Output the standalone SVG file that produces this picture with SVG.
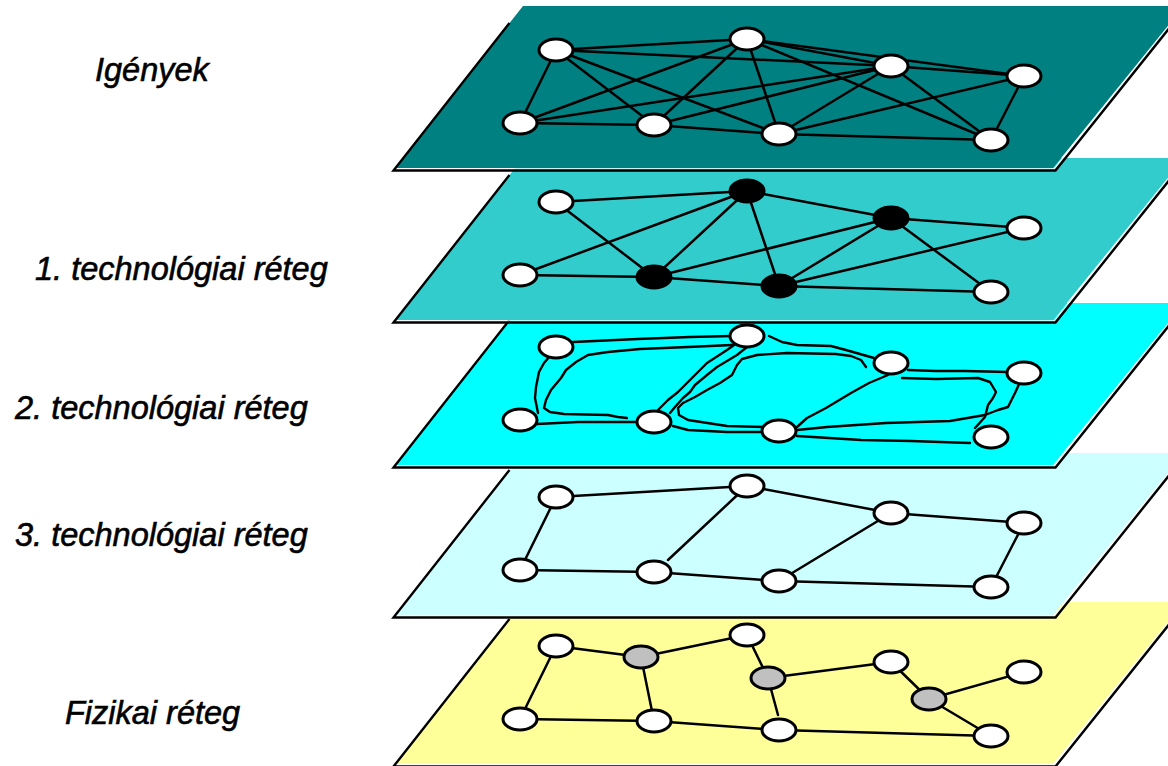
<svg xmlns="http://www.w3.org/2000/svg" xmlns:xlink="http://www.w3.org/1999/xlink" width="1168" height="766" viewBox="0 0 1168 766">
  <style>
    .edge { fill: none; stroke: #000; stroke-width: 2.5; stroke-linecap: round; stroke-linejoin: round; }
    .wire { fill: none; stroke: #000; stroke-width: 2.4; stroke-linecap: round; stroke-linejoin: round; }
    .node { fill: #fff; stroke: #000; stroke-width: 3; }
    .dark { fill: #000; stroke: #000; stroke-width: 3; }
    .grey { fill: #c0c0c0; stroke: #000; stroke-width: 3; }
    .rim { fill: none; stroke: #000; stroke-width: 2.4; stroke-linejoin: miter; }
    .gloss { fill: none; stroke: #fff; stroke-width: 1.3; }
    .lbl { font-family: "Liberation Sans", Arial, sans-serif; font-style: italic; font-size: 32.5px; fill: #000; stroke: #000; stroke-width: 0.6; }
  </style>
  <defs>
    <!-- one slanted plane, drawn at the top position and shifted down per layer -->
    <polygon id="sheet" points="523,6 1184,6 1053,168 395,168"/>
    <g id="frame">
      <path class="gloss" d="M396,169 L1054,169 L1185.5,6"/>
      <path class="rim" d="M509.5,23 L393.5,170.5 L1055.5,170.5 L1171,26"/>
    </g>
  </defs>

  <!-- planes, bottom to top -->
  <g id="planes">
    <g id="plane-fizikai" transform="translate(0,596)">
      <use xlink:href="#sheet" fill="#ffff99"/>
      <use xlink:href="#frame"/>
    </g>
    <g id="plane-tech3" transform="translate(0,447)">
      <use xlink:href="#sheet" fill="#ccffff"/>
      <use xlink:href="#frame"/>
    </g>
    <g id="plane-tech2" transform="translate(0,297)">
      <use xlink:href="#sheet" fill="#00ffff"/>
      <use xlink:href="#frame"/>
    </g>
    <g id="plane-tech1" transform="translate(0,152)">
      <use xlink:href="#sheet" fill="#33cccc"/>
      <use xlink:href="#frame"/>
    </g>
    <g id="plane-igenyek">
      <use xlink:href="#sheet" fill="#008080"/>
      <use xlink:href="#frame"/>
    </g>
  </g>

  <!-- labels -->
  <g id="labels">
    <text class="lbl" x="95" y="81">Igények</text>
    <text class="lbl" x="35" y="280">1. technológiai réteg</text>
    <text class="lbl" x="15" y="419">2. technológiai réteg</text>
    <text class="lbl" x="15" y="546">3. technológiai réteg</text>
    <text class="lbl" x="65" y="724">Fizikai réteg</text>
  </g>

  <g id="connectors">
    <!-- demand layer: full mesh of requests -->
    <g id="links-igenyek" class="edge">
      <line x1="556" y1="50" x2="747" y2="39"/>
      <line x1="556" y1="50" x2="891" y2="66"/>
      <line x1="556" y1="50" x2="520" y2="123"/>
      <line x1="556" y1="50" x2="654" y2="125"/>
      <line x1="556" y1="50" x2="779" y2="134"/>
      <line x1="747" y1="39" x2="520" y2="123"/>
      <line x1="747" y1="39" x2="654" y2="125"/>
      <line x1="747" y1="39" x2="779" y2="134"/>
      <line x1="747" y1="39" x2="891" y2="66"/>
      <line x1="747" y1="39" x2="1024" y2="76"/>
      <line x1="747" y1="39" x2="991" y2="140"/>
      <line x1="891" y1="66" x2="520" y2="123"/>
      <line x1="891" y1="66" x2="654" y2="125"/>
      <line x1="891" y1="66" x2="779" y2="134"/>
      <line x1="891" y1="66" x2="1024" y2="76"/>
      <line x1="891" y1="66" x2="991" y2="140"/>
      <line x1="1024" y1="76" x2="779" y2="134"/>
      <line x1="1024" y1="76" x2="991" y2="140"/>
      <line x1="520" y1="123" x2="654" y2="125"/>
      <line x1="654" y1="125" x2="779" y2="134"/>
      <line x1="779" y1="134" x2="991" y2="140"/>
    </g>
    <!-- technology layer 1 -->
    <g id="links-tech1" class="edge">
      <line x1="556" y1="202" x2="747" y2="191"/>
      <line x1="556" y1="202" x2="654" y2="277"/>
      <line x1="747" y1="191" x2="520" y2="275"/>
      <line x1="747" y1="191" x2="654" y2="277"/>
      <line x1="747" y1="191" x2="779" y2="286"/>
      <line x1="747" y1="191" x2="891" y2="218"/>
      <line x1="891" y1="218" x2="654" y2="277"/>
      <line x1="891" y1="218" x2="779" y2="286"/>
      <line x1="891" y1="218" x2="1024" y2="228"/>
      <line x1="891" y1="218" x2="991" y2="292"/>
      <line x1="1024" y1="228" x2="779" y2="286"/>
      <line x1="520" y1="275" x2="654" y2="277"/>
      <line x1="654" y1="277" x2="779" y2="286"/>
      <line x1="779" y1="286" x2="991" y2="292"/>
    </g>
    <!-- technology layer 2: hand-drawn routes -->
    <g id="links-tech2" class="wire">
      <polyline points="573,342 638,339 690,337 732,336"/>
      <polyline points="732,345 688,347 640,349 608,352 588,355 576,362 566,370 561,378 551,390 546,400 544,408 550,412 564,414 608,415 618,417 627,418"/>
      <polyline points="550,356 544,363 539,372 536,387 535,398 538,413"/>
      <polyline points="537,424 578,422 603,422 638,422"/>
      <polyline points="737,343 727,350 707,363 693,377 678,392 668,400 658,410"/>
      <polyline points="747,347 737,355 717,367 707,375 695,385 690,392 683,398 675,407 670,413"/>
      <polyline points="866,367 861,360 851,356 836,354 787,353 757,355 742,359 737,365 732,375 720,383 707,390 695,397 683,403 678,408 679,415 688,420 727,426 765,427"/>
      <polyline points="769,336 782,342 797,345 831,346 846,350 874,358"/>
      <polyline points="888,375 869,383 851,393 826,408 807,418 797,427"/>
      <polyline points="908,370 936,371 965,371 1008,372"/>
      <polyline points="1020,382 1015,393 1008,407 998,410 985,415 950,421 886,423 827,427 797,430"/>
      <polyline points="902,378 936,379 978,378 990,382 996,392 993,398 988,405 985,417 975,428"/>
      <polyline points="797,436 861,440 911,441 970,443"/>
      <polyline points="673,426 688,430 727,432 762,432"/>
    </g>
    <!-- technology layer 3 -->
    <g id="links-tech3" class="edge">
      <line x1="556" y1="497" x2="747" y2="486"/>
      <line x1="556" y1="497" x2="520" y2="570"/>
      <line x1="747" y1="486" x2="668" y2="560"/>
      <line x1="747" y1="486" x2="891" y2="513"/>
      <line x1="891" y1="513" x2="1024" y2="523"/>
      <line x1="891" y1="513" x2="779" y2="581"/>
      <line x1="1024" y1="523" x2="991" y2="587"/>
      <line x1="520" y1="570" x2="654" y2="572"/>
      <line x1="654" y1="572" x2="779" y2="581"/>
      <line x1="779" y1="581" x2="991" y2="587"/>
    </g>
    <!-- physical layer -->
    <g id="links-fizikai" class="edge">
      <line x1="556" y1="646" x2="641" y2="657"/>
      <line x1="641" y1="657" x2="747" y2="635"/>
      <line x1="556" y1="646" x2="520" y2="719"/>
      <line x1="641" y1="657" x2="654" y2="721"/>
      <line x1="747" y1="635" x2="768" y2="678"/>
      <line x1="768" y1="678" x2="891" y2="662"/>
      <line x1="768" y1="678" x2="778" y2="715"/>
      <line x1="891" y1="662" x2="929" y2="699"/>
      <line x1="929" y1="699" x2="1024" y2="672"/>
      <line x1="929" y1="699" x2="991" y2="736"/>
      <line x1="520" y1="719" x2="654" y2="721"/>
      <line x1="654" y1="721" x2="779" y2="730"/>
      <line x1="779" y1="730" x2="991" y2="736"/>
    </g>
  </g>

  <!-- nodes: demand layer -->
  <g id="igenyek-a"><ellipse class="node" cx="556" cy="50" rx="17" ry="11"/></g>
  <g id="igenyek-b"><ellipse class="node" cx="747" cy="39" rx="17" ry="11"/></g>
  <g id="igenyek-c"><ellipse class="node" cx="891" cy="66" rx="17" ry="11"/></g>
  <g id="igenyek-d"><ellipse class="node" cx="1024" cy="76" rx="17" ry="11"/></g>
  <g id="igenyek-e"><ellipse class="node" cx="520" cy="123" rx="17" ry="11"/></g>
  <g id="igenyek-f"><ellipse class="node" cx="654" cy="125" rx="17" ry="11"/></g>
  <g id="igenyek-g"><ellipse class="node" cx="779" cy="134" rx="17" ry="11"/></g>
  <g id="igenyek-h"><ellipse class="node" cx="991" cy="140" rx="17" ry="11"/></g>

  <!-- nodes: technology layer 1 -->
  <g id="tech1-a"><ellipse class="node" cx="556" cy="202" rx="17" ry="11"/></g>
  <g id="tech1-b"><ellipse class="dark" cx="747" cy="191" rx="17" ry="11"/></g>
  <g id="tech1-c"><ellipse class="dark" cx="891" cy="218" rx="17" ry="11"/></g>
  <g id="tech1-d"><ellipse class="node" cx="1024" cy="228" rx="17" ry="11"/></g>
  <g id="tech1-e"><ellipse class="node" cx="520" cy="275" rx="17" ry="11"/></g>
  <g id="tech1-f"><ellipse class="dark" cx="654" cy="277" rx="17" ry="11"/></g>
  <g id="tech1-g"><ellipse class="dark" cx="779" cy="286" rx="17" ry="11"/></g>
  <g id="tech1-h"><ellipse class="node" cx="991" cy="292" rx="17" ry="11"/></g>

  <!-- nodes: technology layer 2 -->
  <g id="tech2-a"><ellipse class="node" cx="556" cy="347" rx="17" ry="11"/></g>
  <g id="tech2-b"><ellipse class="node" cx="747" cy="336" rx="17" ry="11"/></g>
  <g id="tech2-c"><ellipse class="node" cx="891" cy="363" rx="17" ry="11"/></g>
  <g id="tech2-d"><ellipse class="node" cx="1024" cy="373" rx="17" ry="11"/></g>
  <g id="tech2-e"><ellipse class="node" cx="520" cy="420" rx="17" ry="11"/></g>
  <g id="tech2-f"><ellipse class="node" cx="654" cy="422" rx="17" ry="11"/></g>
  <g id="tech2-g"><ellipse class="node" cx="779" cy="431" rx="17" ry="11"/></g>
  <g id="tech2-h"><ellipse class="node" cx="991" cy="437" rx="17" ry="11"/></g>

  <!-- nodes: technology layer 3 -->
  <g id="tech3-a"><ellipse class="node" cx="556" cy="497" rx="17" ry="11"/></g>
  <g id="tech3-b"><ellipse class="node" cx="747" cy="486" rx="17" ry="11"/></g>
  <g id="tech3-c"><ellipse class="node" cx="891" cy="513" rx="17" ry="11"/></g>
  <g id="tech3-d"><ellipse class="node" cx="1024" cy="523" rx="17" ry="11"/></g>
  <g id="tech3-e"><ellipse class="node" cx="520" cy="570" rx="17" ry="11"/></g>
  <g id="tech3-f"><ellipse class="node" cx="654" cy="572" rx="17" ry="11"/></g>
  <g id="tech3-g"><ellipse class="node" cx="779" cy="581" rx="17" ry="11"/></g>
  <g id="tech3-h"><ellipse class="node" cx="991" cy="587" rx="17" ry="11"/></g>

  <!-- nodes: physical layer -->
  <g id="fizikai-a"><ellipse class="node" cx="556" cy="646" rx="17" ry="11"/></g>
  <g id="fizikai-b"><ellipse class="node" cx="747" cy="635" rx="17" ry="11"/></g>
  <g id="fizikai-c"><ellipse class="node" cx="891" cy="662" rx="17" ry="11"/></g>
  <g id="fizikai-d"><ellipse class="node" cx="1024" cy="672" rx="17" ry="11"/></g>
  <g id="fizikai-e"><ellipse class="node" cx="520" cy="719" rx="17" ry="11"/></g>
  <g id="fizikai-f"><ellipse class="node" cx="654" cy="721" rx="17" ry="11"/></g>
  <g id="fizikai-g"><ellipse class="node" cx="779" cy="730" rx="17" ry="11"/></g>
  <g id="fizikai-h"><ellipse class="node" cx="991" cy="736" rx="17" ry="11"/></g>
  <g id="fizikai-p"><ellipse class="grey" cx="641" cy="657" rx="17" ry="11"/></g>
  <g id="fizikai-q"><ellipse class="grey" cx="768" cy="678" rx="17" ry="11"/></g>
  <g id="fizikai-r"><ellipse class="grey" cx="929" cy="699" rx="17" ry="11"/></g>
</svg>
